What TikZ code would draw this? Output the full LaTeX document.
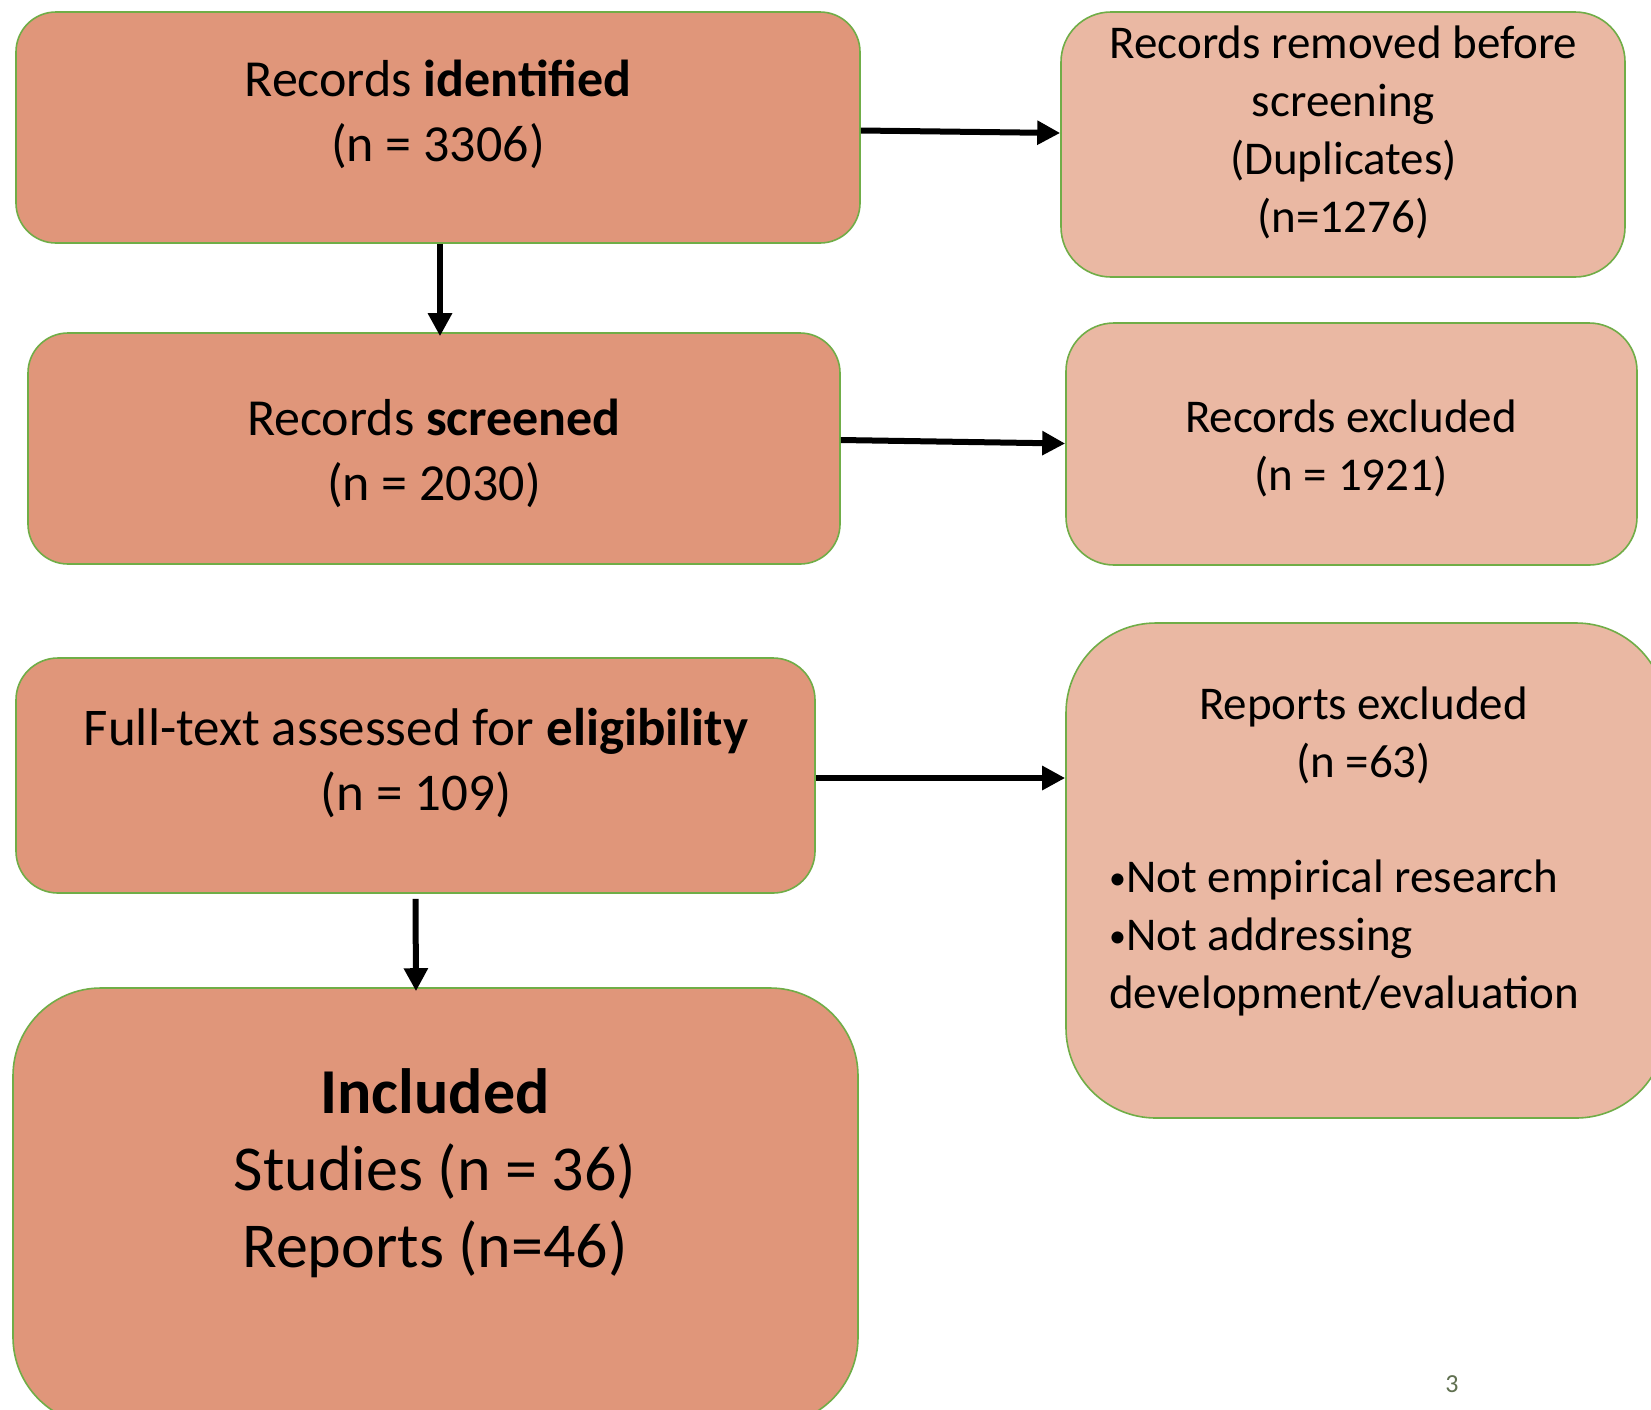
\documentclass[tikz,border=0pt]{standalone}
\usepackage{fontspec}
\setmainfont{Carlito}
\usetikzlibrary{arrows.meta}
\definecolor{darkfill}{RGB}{224,150,122}
\definecolor{lightfill}{RGB}{234,184,163}
\definecolor{boxline}{RGB}{112,173,71}
\definecolor{pagenum}{RGB}{96,112,80}
\newcommand{\smallbul}{\raisebox{3pt}{\fontsize{34}{58}\selectfont•}}
\begin{document}
\begin{tikzpicture}[x=1pt,y=-1pt,
    box/.style={draw=boxline, line width=1.6pt, inner sep=0pt},
    txt/.style={align=center, inner sep=0pt},
    arr/.style={line width=6pt, -{Triangle[length=23pt,width=23pt]}}]
    \clip (0,0) rectangle (1651,1409);
    \fill[white] (0,0) rectangle (1651,1409);
    \foreach \nm/\cx/\cy/\w/\h/\r/\fc in {
        ident/438/127.5/844/231/40/darkfill,
        removed/1343/144.5/564/265/50/lightfill,
        screened/434/448.5/812/231/40/darkfill,
        excluded/1351.5/444/571/242/48/lightfill,
        fulltext/415.5/775.5/799/235/42/darkfill,
        reports/1366/870.5/600/495/90/lightfill,
        included/435.5/1206.5/845/437/88/darkfill}{
        \node[box, fill=\fc, rounded corners=\r pt,
            minimum width=\w pt, minimum height=\h pt] (\nm) at (\cx,\cy) {};
    };
    \node[txt, font=\fontsize{52}{65}\selectfont] (identT) at (438,114.5)
        {Records \textbf{identified}\\(n = 3306)};
    \node[txt, font=\fontsize{47}{58}\selectfont] (removedT) at (1343.5,132)
        {Records removed before\\screening\\(Duplicates)\\(n=1276)};
    \node[txt, font=\fontsize{52}{65}\selectfont] (screenedT) at (434,453)
        {Records \textbf{screened}\\(n = 2030)};
    \node[txt, font=\fontsize{47}{58}\selectfont] (excludedT) at (1351,448.5)
        {Records excluded\\(n = 1921)};
    \node[txt, font=\fontsize{53}{65}\selectfont] (fulltextT) at (416,763)
        {Full-text assessed for \textbf{eligibility}\\(n = 109)};
    \node[txt, font=\fontsize{47}{58}\selectfont] (reportsT) at (1363.5,735.5)
        {Reports excluded\\(n =63)};
    \node[txt, align=left, anchor=west, font=\fontsize{47}{58}\selectfont] (reasonsT) at (1109,937.5)
        {\smallbul Not empirical research\\\smallbul Not addressing\\development/evaluation};
    \node[txt, font=\fontsize{64}{77}\selectfont] (includedT) at (435,1173)
        {\textbf{Included}\\Studies (n = 36)\\Reports (n=46)};
    \node[inner sep=0pt, text=pagenum, font=\fontsize{26}{30}\selectfont] (page) at (1452,1384) {3};
    \draw[arr] ([yshift=-3pt]ident.east) -- ([yshift=11.5pt]removed.west);
    \draw[arr] ([xshift=2pt]ident.south) -- ([xshift=6pt,yshift=-4pt]screened.north);
    \draw[arr] ([yshift=8.5pt]screened.east) -- ([yshift=0.5pt]excluded.west);
    \draw[arr] ([yshift=-2.5pt]fulltext.east) -- ([yshift=92.5pt]reports.west);
    \draw[arr] ([yshift=-5pt]fulltext.south) -- ([xshift=-19.5pt,yshift=-4pt]included.north);
\end{tikzpicture}
\end{document}
